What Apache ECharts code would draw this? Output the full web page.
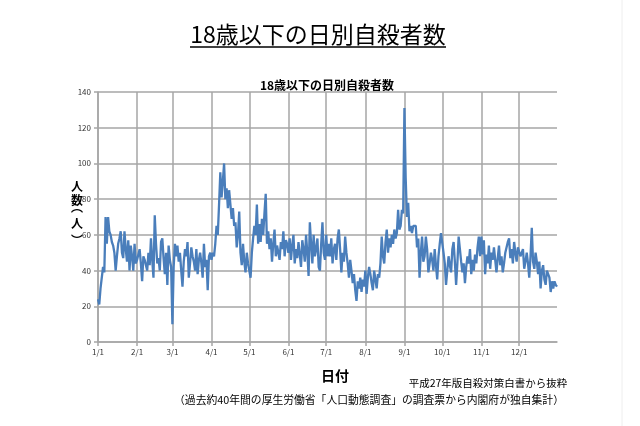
<!DOCTYPE html>
<html><head><meta charset="utf-8">
<script src="https://cdn.jsdelivr.net/npm/echarts@6/dist/echarts.min.js"></script>
<style>html,body{margin:0;padding:0;background:#fff}#c{width:640px;height:426px}</style>
</head><body><div id="c"></div>
<script>
const monthDays = [31,28,31,30,31,30,31,31,30,31,30,31];
const monthTickLabels = ["1/1","2/1","3/1","4/1","5/1","6/1","7/1","8/1","9/1","10/1","11/1","12/1"];
const jan = [24,21,30,31,42,39,70,55,70,62,60,56,54,50,40,48,55,58,62,50,47,62,52,45,57,40,54,48,40,55,44];
const feb = [46,45,52,44,34,48,46,47,40,50,43,58,46,36,71,55,44,47,40,56,58,47,38,50,32,54,46,42];
const mar = [10,42,55,48,54,45,50,40,31,45,52,48,56,36,44,53,48,45,40,52,38,46,50,44,36,55,42,46,29,48,50];
const apr = [46,50,48,55,65,60,77,95,81,90,100,80,86,75,85,84,69,75,65,67,53,60,73,50,43,55,45,39,50,44];
const may = [44,36,50,58,65,60,77,55,66,56,69,60,72,83,55,62,52,58,45,55,63,48,54,50,46,56,52,62,48,57,55];
const jun = [50,58,46,54,60,44,52,47,56,49,42,57,52,45,60,50,37,67,55,44,60,48,52,58,42,40,55,67,50,46];
const jul = [60,48,55,48,58,44,52,55,46,58,63,52,39,50,45,59,50,44,36,46,40,33,38,29,23,34,30,36,28,35,31];
const aug = [40,27,36,42,38,33,29,40,35,30,38,36,44,59,48,44,56,63,50,58,53,60,55,63,58,61,74,63,65,74,72];
const sep = [131,92,70,78,62,65,61,65,64,65,53,58,36,50,59,45,48,59,52,39,44,50,46,40,52,43,35,48,55,61];
const oct = [60,50,44,32,40,48,43,39,52,56,45,32,44,59,52,45,39,44,33,42,48,44,52,38,46,40,49,44,53,59,48];
const nov = [59,49,57,38,49,44,54,41,50,46,53,46,39,47,54,43,48,39,44,50,49,56,58,47,52,44,56,50,45,53];
const dec = [53,48,47,52,41,45,50,44,36,48,64,45,41,50,45,38,45,30,40,43,35,32,40,39,36,28,34,30,34,32,31];

const values = [].concat(jan,feb,mar,apr,may,jun,jul,aug,sep,oct,nov,dec);
const categories = [];
const monthStart = new Set();
monthDays.forEach((n,m)=>{
  monthStart.add(categories.length);
  for(let d=1; d<=n; d++) categories.push((m+1)+'/'+d);
});
const isMonthStart = (i)=>monthStart.has(i);
const FONT = '"Noto Sans CJK JP", "Noto Sans", sans-serif';

const yName = ['人','数','︵','人','︶'];
const yNameY = [186,200,207,223,240];

const chart = echarts.init(document.getElementById('c'), null, {renderer:'canvas'});
chart.setOption({
  animation:false,
  backgroundColor:'#fff',
  grid:{left:98, right:83, top:92, bottom:84, containLabel:false},
  xAxis:{
    type:'category', data:categories, boundaryGap:false,
    axisLine:{show:true, lineStyle:{color:'#a6a6a6', width:1.5}},
    axisTick:{show:true, interval:isMonthStart, length:4, lineStyle:{color:'#a6a6a6', width:1.5}},
    axisLabel:{interval:isMonthStart, color:'#333', fontSize:8, fontFamily:FONT, margin:6},
    splitLine:{show:true, interval:isMonthStart, lineStyle:{color:'#a6a6a6', width:1.5}}
  },
  yAxis:{
    type:'value', min:0, max:140, interval:20,
    axisLine:{show:true, lineStyle:{color:'#a6a6a6', width:1.5}},
    axisTick:{show:true, length:4, lineStyle:{color:'#a6a6a6', width:1.5}},
    axisLabel:{color:'#333', fontSize:8, fontFamily:FONT, margin:7},
    splitLine:{show:true, lineStyle:{color:'#a6a6a6', width:1.5}}
  },
  series:[{
    type:'line', data:values, showSymbol:false, symbol:'none',
    lineStyle:{color:'#4a7ebb', width:2.3}, smooth:false
  }],
  graphic:[
    {type:'text', x:318, y:34, style:{text:'18歳以下の日別自殺者数', font:'normal 23px '+FONT, fill:'#000', align:'center', verticalAlign:'middle'}},
    {type:'line', shape:{x1:190, y1:47, x2:446, y2:47}, style:{stroke:'#000', lineWidth:1.5}},
    {type:'text', x:327, y:85, style:{text:'18歳以下の日別自殺者数', font:'bold 12px '+FONT, fill:'#000', align:'center', verticalAlign:'middle'}}
  ].concat(yName.map((t,i)=>({type:'text', x:77, y:yNameY[i], style:{text:t, font:'bold 12px '+FONT, fill:'#000', align:'center', verticalAlign:'middle'}}))).concat([
    {type:'text', x:335, y:376, style:{text:'日付', font:'bold 14px '+FONT, fill:'#000', align:'center', verticalAlign:'middle'}},
    {type:'text', x:488, y:383, style:{text:'平成27年版自殺対策白書から抜粋', font:'normal 10.5px '+FONT, fill:'#000', align:'center', verticalAlign:'middle'}},
    {type:'text', x:369, y:400, style:{text:'（過去約40年間の厚生労働省「人口動態調査」の調査票から内閣府が独自集計）', font:'normal 10.8px '+FONT, fill:'#000', align:'center', verticalAlign:'middle'}},
    {type:'line', shape:{x1:622, y1:0, x2:622, y2:426}, style:{stroke:'#eeeeee', lineWidth:1}}
  ])
});
</script></body></html>
